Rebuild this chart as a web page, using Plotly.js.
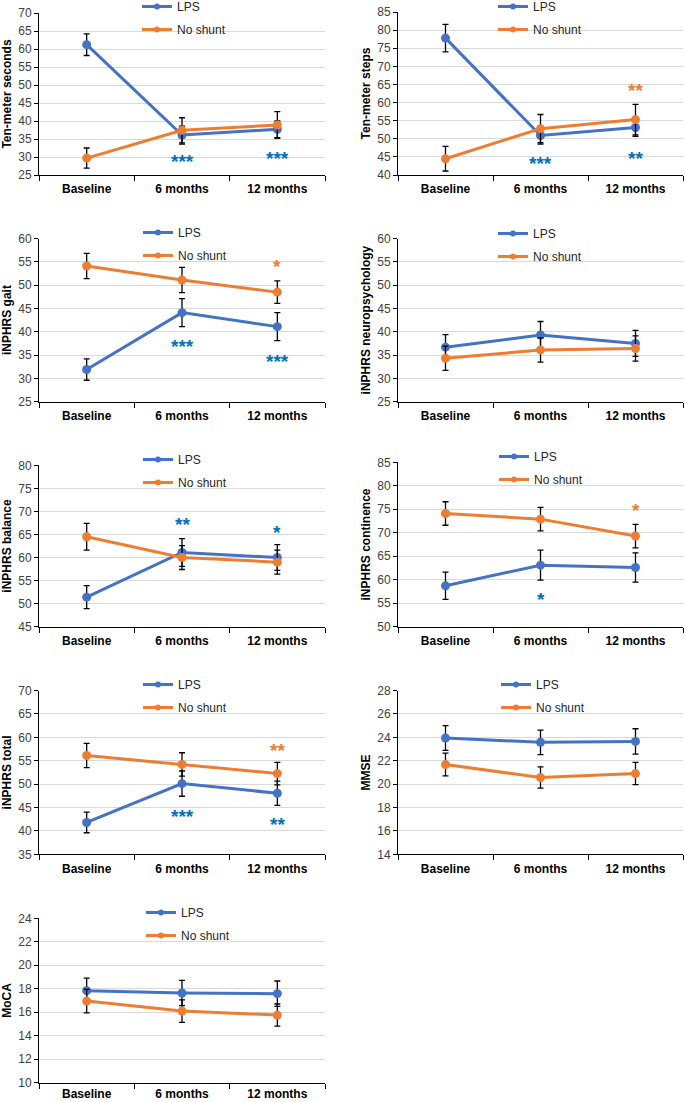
<!DOCTYPE html>
<html>
<head>
<meta charset="utf-8">
<script src="https://cdn.plot.ly/plotly-3.0.1.min.js"></script>
<style>html,body{margin:0;padding:0;background:#fff;}#chart{width:685px;height:1102px;}</style>
</head>
<body>
<div id="chart"></div>
<script>
const categories = ['Baseline', '6 months', '12 months'];
const seriesNames = ['LPS', 'No shunt'];

const secondsLPS = [61.2, 36.1, 37.7];
const secondsLPSErr = [3.0, 2.5, 2.3];
const secondsNoShunt = [29.7, 37.4, 38.9];
const secondsNoShuntErr = [2.8, 3.5, 3.7];

const stepsLPS = [77.8, 50.9, 53.1];
const stepsLPSErr = [3.8, 2.4, 2.4];
const stepsNoShunt = [44.5, 52.8, 55.3];
const stepsNoShuntErr = [3.4, 3.9, 4.2];

const gaitLPS = [31.9, 44.1, 41.1];
const gaitLPSErr = [2.3, 3.0, 3.0];
const gaitNoShunt = [54.1, 51.1, 48.5];
const gaitNoShuntErr = [2.7, 2.7, 2.4];

const neuroLPS = [36.7, 39.3, 37.5];
const neuroLPSErr = [2.7, 2.9, 2.8];
const neuroNoShunt = [34.3, 36.1, 36.4];
const neuroNoShuntErr = [2.6, 2.6, 2.7];

const balanceLPS = [51.4, 61.1, 60.0];
const balanceLPSErr = [2.5, 3.0, 2.8];
const balanceNoShunt = [64.5, 60.0, 59.0];
const balanceNoShuntErr = [2.9, 2.6, 2.6];

const continenceLPS = [58.7, 63.1, 62.6];
const continenceLPSErr = [2.9, 3.2, 3.1];
const continenceNoShunt = [74.1, 72.9, 69.3];
const continenceNoShuntErr = [2.5, 2.5, 2.5];

const totalLPS = [41.8, 50.1, 48.05];
const totalLPSErr = [2.2, 2.7, 2.6];
const totalNoShunt = [56.1, 54.2, 52.25];
const totalNoShuntErr = [2.6, 2.5, 2.4];

const mmseLPS = [23.94, 23.57, 23.65];
const mmseLPSErr = [1.06, 1.05, 1.08];
const mmseNoShunt = [21.67, 20.56, 20.9];
const mmseNoShuntErr = [0.97, 0.91, 0.95];

const mocaLPS = [17.84, 17.64, 17.58];
const mocaLPSErr = [1.06, 1.07, 1.08];
const mocaNoShunt = [16.95, 16.1, 15.76];
const mocaNoShuntErr = [1.0, 0.96, 0.94];

// significance marks: [category, text, series, level]
const secondsStars = [['6 months', '***', 'LPS', 30.1], ['12 months', '***', 'LPS', 30.85]];
const stepsStars = [['12 months', '**', 'No shunt', 64.8], ['6 months', '***', 'LPS', 44.6], ['12 months', '**', 'LPS', 46.0]];
const gaitStars = [['12 months', '*', 'No shunt', 55.0], ['6 months', '***', 'LPS', 37.9], ['12 months', '***', 'LPS', 34.6]];
const neuroStars = [];
const balanceStars = [['6 months', '**', 'LPS', 68.3], ['12 months', '*', 'LPS', 66.5]];
const continenceStars = [['12 months', '*', 'No shunt', 75.7], ['6 months', '*', 'LPS', 56.8]];
const totalStars = [['12 months', '**', 'No shunt', 58.2], ['6 months', '***', 'LPS', 44.1], ['12 months', '**', 'LPS', 42.5]];
const mmseStars = [];
const mocaStars = [];

const yTitles = ['Ten-meter seconds', 'Ten-meter steps', 'iNPHRS gait', 'iNPHRS neuropsychology',
  'iNPHRS balance', 'iNPHRS continence', 'iNPHRS total', 'MMSE', 'MoCA'];
const yRanges = [[25, 70], [40, 85], [25, 60], [25, 60], [45, 80], [50, 85], [35, 70], [14, 28], [10, 24]];
const yDticks = [5, 5, 5, 5, 5, 5, 5, 2, 2];

const panels = [
  [secondsLPS, secondsLPSErr, secondsNoShunt, secondsNoShuntErr, secondsStars],
  [stepsLPS, stepsLPSErr, stepsNoShunt, stepsNoShuntErr, stepsStars],
  [gaitLPS, gaitLPSErr, gaitNoShunt, gaitNoShuntErr, gaitStars],
  [neuroLPS, neuroLPSErr, neuroNoShunt, neuroNoShuntErr, neuroStars],
  [balanceLPS, balanceLPSErr, balanceNoShunt, balanceNoShuntErr, balanceStars],
  [continenceLPS, continenceLPSErr, continenceNoShunt, continenceNoShuntErr, continenceStars],
  [totalLPS, totalLPSErr, totalNoShunt, totalNoShuntErr, totalStars],
  [mmseLPS, mmseLPSErr, mmseNoShunt, mmseNoShuntErr, mmseStars],
  [mocaLPS, mocaLPSErr, mocaNoShunt, mocaNoShuntErr, mocaStars]
];

// layout geometry (pixels)
const W = 685, H = 1102;
const colX = [[39, 325], [398, 683]];
const rowY = [[13, 175], [12, 175], [238.5, 401.7], [238.5, 401.7], [465.3, 626.7], [462.3, 626.7],
  [690.5, 854.3], [690.5, 854.3], [918.3, 1082.7]];
const legendPos = [[137, -8], [493, -8], [138, 218], [493, 219], [138, 445], [494, 442],
  [138, 670], [496, 670], [141, 898]];
const labelStandoff = [3, 3, 3, 3, 3, 3, 3, 3, 0];
const titleStandoff = [5, 4];

const colors = {'LPS': '#4472C4', 'No shunt': '#ED7D31'};
const starColors = {'LPS': '#0070C0', 'No shunt': '#ED7D31'};
const FONT = 'Liberation Sans, Arial, sans-serif';

const data = [];
const legendTraces = [];
const layout = {
  width: W, height: H,
  margin: {l: 0, r: 0, t: 0, b: 0, autoexpand: false},
  paper_bgcolor: '#fff', plot_bgcolor: 'rgba(0,0,0,0)',
  font: {family: FONT, size: 12, color: '#404040'},
  annotations: [],
  showlegend: true
};

panels.forEach((p, i) => {
  const n = i + 1;
  const sfx = n === 1 ? '' : String(n);
  const col = i % 2;
  const legName = 'legend' + sfx;
  const series = [[p[0], p[1], 'LPS'], [p[2], p[3], 'No shunt']];
  series.forEach(([vals, errs, name]) => {
    data.push({
      type: 'scatter', mode: 'lines+markers',
      x: categories, y: vals, name: name,
      xaxis: 'x' + sfx, yaxis: 'y' + sfx,
      showlegend: false,
      line: {color: colors[name], width: 3},
      marker: {color: colors[name], size: 9},
      error_y: {type: 'data', array: errs, visible: true, color: '#000', thickness: 1.3, width: 3},
      hoverinfo: 'skip'
    });
    // legend-only entry (no visible point), so the legend marker can be smaller
    legendTraces.push({
      type: 'scatter', mode: 'lines+markers',
      x: categories.slice(0, 1), y: [null], name: name,
      xaxis: 'x' + sfx, yaxis: 'y' + sfx,
      legend: legName, legendgroup: name + n, showlegend: true,
      line: {color: colors[name], width: 3},
      marker: {color: colors[name], size: 6},
      hoverinfo: 'skip'
    });
  });
  const [x0, x1] = colX[col];
  const [t, b] = rowY[i];
  layout['xaxis' + sfx] = {
    domain: [x0 / W, x1 / W], anchor: 'y' + sfx,
    type: 'category', categoryorder: 'array', categoryarray: categories,
    range: [-0.5, 2.5], tickson: 'boundaries', ticks: 'outside', ticklen: 5, tickcolor: '#000',
    ticklabelstandoff: labelStandoff[i],
    showline: true, linecolor: '#000', linewidth: 1, showgrid: false, zeroline: false,
    tickfont: {family: FONT, size: 12, color: '#000', weight: 'bold'}
  };
  layout['yaxis' + sfx] = {
    domain: [1 - b / H, 1 - t / H], anchor: 'x' + sfx,
    range: yRanges[i], dtick: yDticks[i], tick0: 0,
    ticks: 'outside', ticklen: 4, tickcolor: '#000',
    showline: true, linecolor: '#000', linewidth: 1,
    showgrid: true, gridcolor: '#D9D9D9', gridwidth: 1, zeroline: false,
    tickfont: {family: FONT, size: 12, color: '#404040'},
    title: {text: yTitles[i], standoff: titleStandoff[col], font: {family: FONT, size: 12, color: '#000', weight: 'bold'}}
  };
  layout[legName] = {
    x: legendPos[i][0] / W, y: 1 - legendPos[i][1] / H, xanchor: 'left', yanchor: 'top',
    bgcolor: 'rgba(0,0,0,0)', borderwidth: 0, tracegroupgap: 4,
    font: {family: FONT, size: 12, color: '#262626'}, itemwidth: 30
  };
  p[4].forEach(([cat, txt, ser, lvl]) => {
    layout.annotations.push({
      xref: 'x' + sfx, yref: 'y' + sfx, x: cat, y: lvl, text: txt,
      showarrow: false, xanchor: 'center', yanchor: 'middle', yshift: -5,
      font: {family: FONT, size: 19, color: starColors[ser], weight: 'bold'}
    });
  });
});

Plotly.newPlot('chart', data.concat(legendTraces), layout, {displayModeBar: false, staticPlot: true});
</script>
</body>
</html>
